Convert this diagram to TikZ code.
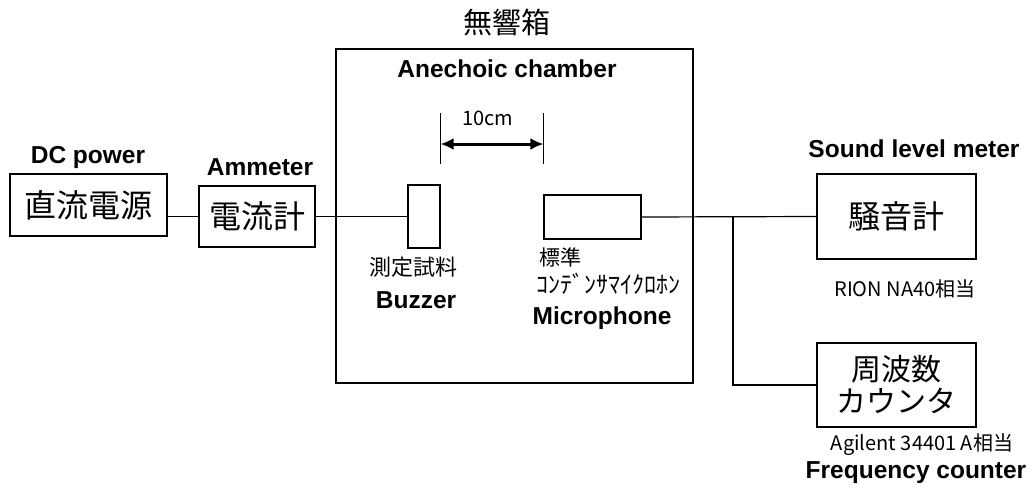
\documentclass[tikz,border=0pt]{standalone}
\usepackage{fontspec}
\setmainfont{Liberation Sans}
\newfontfamily\jp{Noto Sans CJK JP}
\usepackage{tikz}
\usetikzlibrary{arrows.meta, calc}
\tikzstyle{device}=[rectangle, draw=black, line width=1.2pt, inner sep=0pt, text centered]
\tikzstyle{label}=[font=\bfseries\fontsize{24.5}{24}\selectfont, anchor=base]
\tikzstyle{jname}=[font=\jp\fontsize{32}{34}\selectfont]
\tikzstyle{jnote}=[font=\jp\fontsize{21}{22}\selectfont]
\tikzstyle{model}=[font=\jp\fontsize{20}{20}\selectfont]
\tikzstyle{wire}=[line width=1.2pt]
\tikzstyle{dimarrow}=[line width=3pt, {Latex[length=13pt, width=12pt]}-{Latex[length=13pt, width=12pt]}]

\begin{document}
\begin{tikzpicture}[x=1pt, y=-1pt]
	\useasboundingbox (0,0) rectangle (1035,491);

	% chamber and devices
	\node[device, minimum width=357, minimum height=334] (chamber) at (514.5,216) {};
	\node[device, minimum width=157, minimum height=62, jname] (dcpower) at (88.5,205) {直流電源};
	\node[device, minimum width=116, minimum height=61, jname] (ammeter) at (257,216.5) {電流計};
	\node[device, minimum width=32, minimum height=63] (buzzer) at (424,216.5) {};
	\node[device, minimum width=97, minimum height=44] (mic) at (592.5,217) {};
	\node[device, minimum width=159, minimum height=85, jname] (slm) at (896.5,216.5) {騒音計};
	\node[device, minimum width=159, minimum height=84, align=center, font=\jp\fontsize{30}{32}\selectfont] (counter) at (896.5,385) {周波数\\カウンタ};

	% wiring
	\draw[wire] (ammeter.west) -- (ammeter.west -| dcpower.east);
	\draw[wire] (ammeter.east) -- (buzzer.west);
	\draw[wire] (mic.east) -- (slm.west);
	\coordinate (junction) at (733,217);
	\draw[wire] (junction) |- (counter.west);

	% distance
	\draw[wire] (buzzer.east |- 0,113) -- ++(0,51);
	\draw[wire] (mic.west |- 0,113) -- ++(0,51);
	\draw[dimarrow] (buzzer.east |- 0,144) -- (mic.west |- 0,144);
	\node[model, anchor=base] (dist) at (488,125) {10cm};

	% texts
	\node[font=\jp\fontsize{29}{29}\selectfont] (chamberjp) at (507,22) {無響箱};
	\node[label] (chamberen) at (507,77) {Anechoic chamber};
	\node[label] (dcpoweren) at (88,163) {DC power};
	\node[label] (ammeteren) at (260,175) {Ammeter};
	\node[font=\jp\fontsize{22}{22}\selectfont] (buzzerjp) at (413,267) {測定試料};
	\node[label] (buzzeren) at (416,308) {Buzzer};
	\node[jnote, anchor=west] (micjp1) at (536,257) {標準};
	\node[font=\jp\fontsize{24}{24}\selectfont, anchor=west] (micjp2) at (533,284) {ｺﾝﾃﾞﾝｻﾏｲｸﾛﾎﾝ};
	\node[label] (micen) at (602,324) {Microphone};
	\node[label] (slmen) at (914,157) {Sound level meter};
	\node[model] (slmmodel) at (905,289) {RION NA40相当};
	\node[model] (countermodel) at (922,445) {Agilent 34401 A相当};
	\node[label] (counteren) at (916,478) {Frequency counter};
\end{tikzpicture}
\end{document}
